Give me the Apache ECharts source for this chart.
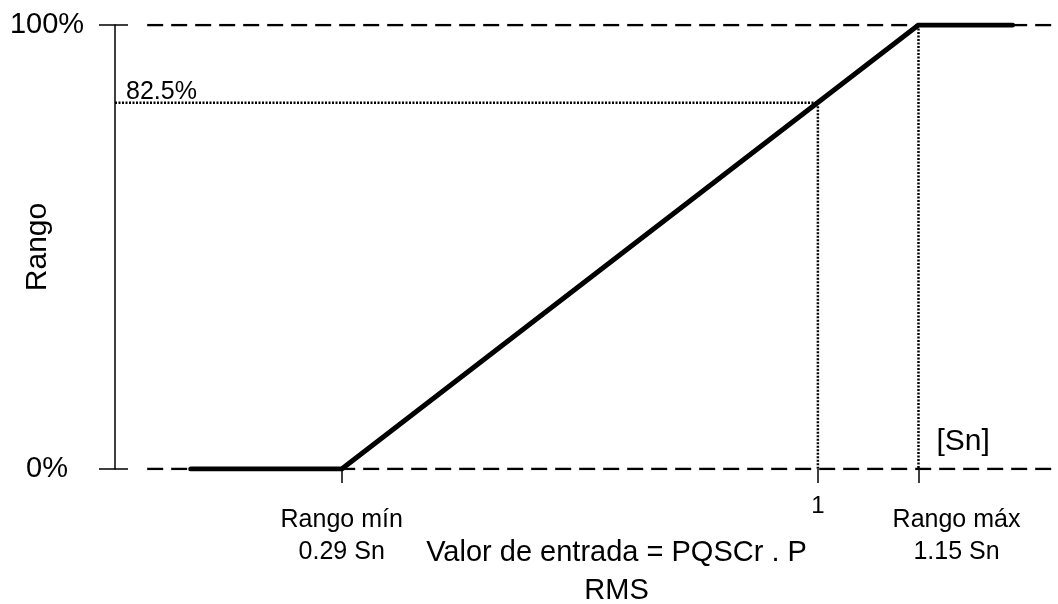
<!DOCTYPE html>
<html>
<head>
<meta charset="utf-8">
<script src="https://cdn.jsdelivr.net/npm/echarts@6/dist/echarts.min.js"></script>
<style>
html,body{margin:0;padding:0;background:#fff;}
#c{width:1058px;height:604px;}
</style>
</head>
<body>
<div id="c"></div>
<script>
// ---- data ----
const curveX = [0.065, 0.29, 1.15, 1.29];
const curveY = [0, 0, 100, 100];
const rangeMin = 0.29;
const rangeOne = 1;
const rangeMax = 1.15;
const refLevel = 82.5;
const yTicks = [0, 100];
const yTickLabels = ['0%', '100%'];
const xLabelMin = ['Rango mín', '0.29 Sn'];
const xLabelMax = ['Rango máx', '1.15 Sn'];
const xLabelOne = '1';
const xName = 'Valor de entrada = PQSCr . P\nRMS';
const yName = 'Rango';
const unitText = '[Sn]';
const refText = '82.5%';

const X_MIN = -0.048, X_MAX = 1.358;
const FONT = '"Liberation Sans", Arial, sans-serif';

const chart = echarts.init(document.getElementById('c'), null, {renderer: 'canvas'});

function pairs(xs, ys) { return xs.map((x, i) => [x, ys[i]]); }

const dotted = {color: '#000', width: 2.5, type: [2, 1.5]};

const option = {
  backgroundColor: '#fff',
  animation: false,
  textStyle: {fontFamily: FONT, color: '#000'},
  grid: {left: 115, right: 0, top: 25, bottom: 135, containLabel: false, outerBoundsMode: 'none'},
  xAxis: [
    {
      type: 'value', min: X_MIN, max: X_MAX,
      axisLine: {show: false, onZero: false},
      splitLine: {show: false},
      axisTick: {show: true, customValues: [rangeMin, rangeOne, rangeMax], length: 14,
                 lineStyle: {color: '#000', width: 1.5}},
      axisLabel: {show: true, customValues: [rangeOne], margin: 25,
                  fontSize: 24, fontFamily: FONT, color: '#000',
                  formatter: () => xLabelOne},
      name: xName, nameLocation: 'middle', nameGap: 65, nameMoveOverlap: false,
      nameTextStyle: {fontSize: 29, fontFamily: FONT, color: '#000', lineHeight: 38,
                      padding: [0, 0, 0, 60]}
    },
    {
      type: 'value', min: X_MIN, max: X_MAX, position: 'bottom',
      axisLine: {show: false, onZero: false}, splitLine: {show: false}, axisTick: {show: false},
      axisLabel: {show: true, customValues: [rangeMin, rangeMax], margin: 35,
                  fontSize: 25, fontFamily: FONT, color: '#000', lineHeight: 32,
                  formatter: function (v) {
                    if (Math.abs(v - rangeMin) < 1e-6) return '{a|' + xLabelMin[0] + '}\n{a|' + xLabelMin[1] + '}';
                    return '{b|' + xLabelMax[0] + '}\n{b|' + xLabelMax[1] + '}';
                  },
                  rich: {
                    a: {fontSize: 25, fontFamily: FONT, color: '#000', lineHeight: 32},
                    b: {fontSize: 25, fontFamily: FONT, color: '#000', lineHeight: 32, padding: [0, 0, 0, 76]}
                  }}
    }
  ],
  yAxis: [
    {
      type: 'value', min: 0, max: 100, interval: 100,
      axisLine: {show: true, onZero: false, lineStyle: {color: '#000', width: 1.5}},
      axisTick: {show: true, length: 16, lineStyle: {color: '#000', width: 1.5}},
      splitLine: {show: false},
      axisLabel: {show: true, margin: 68, align: 'center', fontSize: 29, fontFamily: FONT, color: '#000',
                  formatter: v => yTickLabels[yTicks.indexOf(v)]},
      name: yName, nameLocation: 'middle', nameGap: 62, nameMoveOverlap: false,
      nameTextStyle: {fontSize: 30, fontFamily: FONT, color: '#000'}
    },
    {
      type: 'value', min: 0, max: 100, interval: 100, position: 'left',
      axisLine: {show: false, onZero: false},
      axisTick: {show: true, inside: true, length: 13, lineStyle: {color: '#000', width: 1.5}},
      splitLine: {show: false},
      axisLabel: {show: false}
    }
  ],
  series: [
    {
      name: 'base0', type: 'line', symbol: 'none', z: 1,
      data: [[0, 0], [X_MAX, 0]],
      lineStyle: {color: '#000', width: 2.5, type: [16, 8]}
    },
    {
      name: 'base100', type: 'line', symbol: 'none', z: 1,
      data: [[0, 100], [X_MAX, 100]],
      lineStyle: {color: '#000', width: 2.5, type: [16, 8]}
    },
    {
      name: 'refH', type: 'line', symbol: 'none', z: 2,
      data: [[X_MIN, refLevel], [rangeOne, refLevel]],
      lineStyle: dotted
    },
    {
      name: 'refV1', type: 'line', symbol: 'none', z: 2,
      data: [[rangeOne, refLevel], [rangeOne, 0]],
      lineStyle: dotted
    },
    {
      name: 'refVmax', type: 'line', symbol: 'none', z: 2,
      data: [[rangeMax, 100], [rangeMax, 0]],
      lineStyle: dotted
    },
    {
      name: 'curve', type: 'line', symbol: 'none', z: 5,
      data: pairs(curveX, curveY),
      lineStyle: {color: '#000', width: 5, cap: 'round', join: 'miter'}
    }
  ]
};
chart.setOption(option);

// annotations placed from data coordinates
const pRef = chart.convertToPixel({xAxisIndex: 0, yAxisIndex: 0}, [X_MIN, refLevel]);
const pUnit = chart.convertToPixel({xAxisIndex: 0, yAxisIndex: 0}, [rangeMax, 0]);
chart.setOption({
  graphic: [
    {type: 'text', left: pRef[0] + 11, top: pRef[1] - 23,
     style: {text: refText, fontSize: 25, fontFamily: FONT, fill: '#000'}},
    {type: 'text', left: pUnit[0] + 18, top: pUnit[1] - 42,
     style: {text: unitText, fontSize: 30, fontFamily: FONT, fill: '#000'}}
  ]
});
</script>
</body>
</html>
